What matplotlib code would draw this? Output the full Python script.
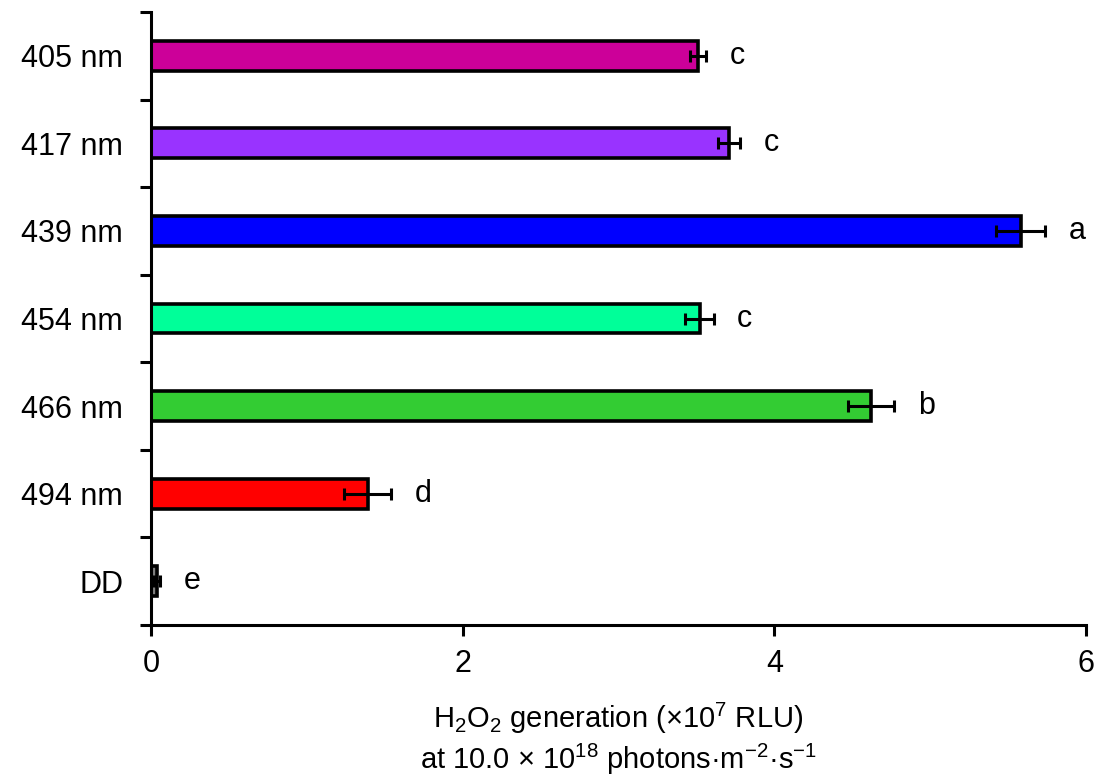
#!/usr/bin/env python3
"""H2O2 generation under different light wavelengths (horizontal bars)."""

import matplotlib
import numpy as np

matplotlib.use("Agg")
import matplotlib.pyplot as plt  # noqa: E402

plt.rcParams["font.family"] = ["Liberation Sans", "DejaVu Sans"]
plt.rcParams["mathtext.fontset"] = "custom"
plt.rcParams["mathtext.rm"] = "Liberation Sans"
plt.rcParams["mathtext.it"] = "Liberation Sans:italic"

labels = ["405 nm", "417 nm", "439 nm", "454 nm", "466 nm", "494 nm", "DD"]
means = [3.51, 3.71, 5.58, 3.52, 4.62, 1.39, 0.04]
errors = [0.05, 0.07, 0.16, 0.09, 0.15, 0.15, 0.02]
letters = ["c", "c", "a", "c", "b", "d", "e"]
colors = ["#CC0099", "#9933FF", "#0000FF", "#00FF99", "#33CC33", "#FF0000", "#808080"]
xticks = [0, 2, 4, 6]

FS = 22

fig = plt.figure(figsize=(11.07, 7.8), dpi=100)
ax = fig.add_axes([0.1364, 0.1987, 0.8446, 0.7859])

pos = np.arange(len(labels))
ax.barh(pos, means, height=0.34, color=colors, edgecolor="black", linewidth=2.6)
ax.errorbar(means, pos, xerr=errors, fmt="none", ecolor="black",
            elinewidth=2.2, capsize=4.5, capthick=2.2)

for p, m, e, letter in zip(pos, means, errors, letters):
    ax.annotate(letter, xy=(m + e, p), xytext=(17, 0), textcoords="offset points",
                ha="left", va="center", fontsize=FS)

ax.set_ylim(len(labels) - 0.5, -0.5)
ax.set_xlim(0, 6)
ax.set_xticks(xticks)
ax.set_xticklabels([str(t) for t in xticks], fontsize=FS)
ax.set_yticks(pos)
ax.set_yticklabels(labels, fontsize=FS)
ax.set_yticks(np.arange(len(labels) + 1) - 0.5, minor=True)
ax.tick_params(axis="y", which="major", length=0, pad=20)
ax.tick_params(axis="y", which="minor", length=8, width=2.2, direction="out")
ax.tick_params(axis="x", which="major", length=8, width=2.2, direction="out", pad=9)

for side in ["top", "right"]:
    ax.spines[side].set_visible(False)
for side in ["left", "bottom"]:
    ax.spines[side].set_linewidth(2.2)

ax.set_xlabel("H$_2$O$_2$ generation (×10$^7$ RLU)\n"
              "at 10.0 × 10$^{18}$ photons·m$^{-2}$·s$^{-1}$",
              fontsize=21, labelpad=16, linespacing=1.2)

fig.savefig("out.png", dpi=100)
